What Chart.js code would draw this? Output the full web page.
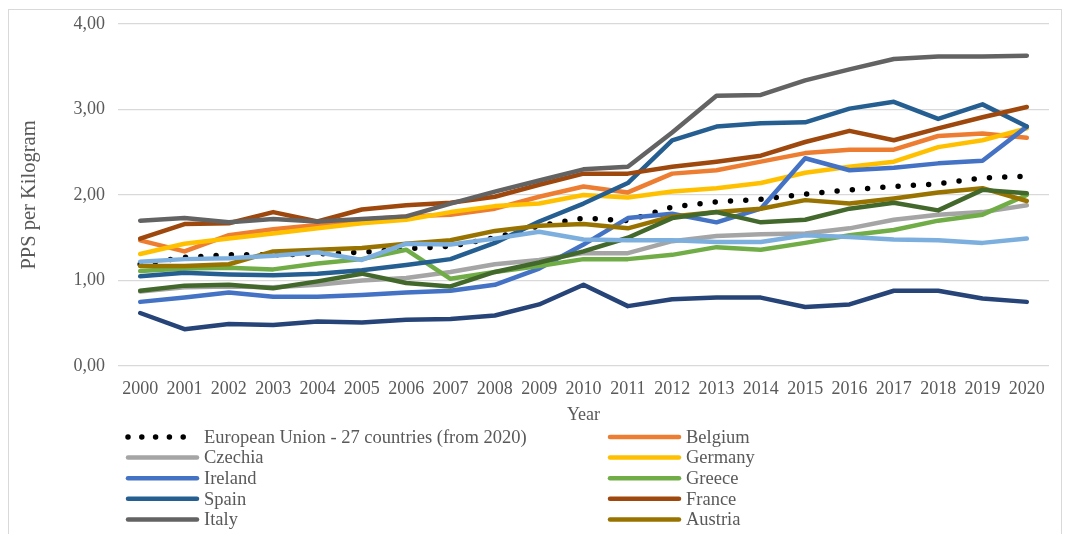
<!DOCTYPE html>
<html>
<head>
<meta charset="utf-8">
<title>PPS per Kilogram</title>
<script src="https://cdn.jsdelivr.net/npm/chart.js@4.4.0/dist/chart.umd.min.js"></script>
<style>
	html, body { margin: 0; padding: 0; background: #ffffff; }
	#wrap { width: 1067px; height: 534px; }
</style>
</head>
<body>
<div id="wrap"><canvas id="pps" width="1067" height="534"></canvas></div>
<script>
//data
const years = ["2000", "2001", "2002", "2003", "2004", "2005", "2006", "2007", "2008", "2009", "2010",
	"2011", "2012", "2013", "2014", "2015", "2016", "2017", "2018", "2019", "2020"];
const yTickValues = [0, 1, 2, 3, 4];

const eu27 = [1.19, 1.27, 1.30, 1.30, 1.31, 1.33, 1.37, 1.40, 1.50, 1.64, 1.73, 1.70, 1.86, 1.92, 1.95, 2.01, 2.06, 2.10, 2.13, 2.20, 2.22];
const belgium = [1.47, 1.34, 1.53, 1.60, 1.65, 1.71, 1.75, 1.77, 1.84, 1.98, 2.10, 2.03, 2.25, 2.29, 2.39, 2.49, 2.53, 2.53, 2.69, 2.72, 2.67];
const czechia = [0.87, 0.92, 0.93, 0.92, 0.95, 1.00, 1.03, 1.10, 1.19, 1.24, 1.32, 1.32, 1.46, 1.52, 1.54, 1.55, 1.61, 1.71, 1.77, 1.80, 1.88];
const germany = [1.31, 1.43, 1.49, 1.55, 1.61, 1.67, 1.71, 1.80, 1.87, 1.90, 2.00, 1.97, 2.04, 2.08, 2.14, 2.26, 2.33, 2.39, 2.56, 2.64, 2.78];
const ireland = [0.75, 0.80, 0.86, 0.81, 0.81, 0.83, 0.86, 0.88, 0.95, 1.14, 1.42, 1.73, 1.78, 1.68, 1.84, 2.43, 2.29, 2.32, 2.37, 2.40, 2.80];
const greece = [1.11, 1.14, 1.15, 1.13, 1.20, 1.25, 1.36, 1.02, 1.10, 1.17, 1.25, 1.25, 1.30, 1.39, 1.36, 1.44, 1.53, 1.59, 1.70, 1.77, 2.00];
const spain = [1.05, 1.09, 1.07, 1.06, 1.08, 1.12, 1.18, 1.25, 1.44, 1.69, 1.90, 2.14, 2.64, 2.80, 2.84, 2.85, 3.01, 3.09, 2.89, 3.06, 2.80];
const france = [1.49, 1.66, 1.67, 1.80, 1.69, 1.83, 1.88, 1.91, 1.98, 2.12, 2.25, 2.25, 2.33, 2.39, 2.46, 2.62, 2.75, 2.64, 2.78, 2.91, 3.03];
const italy = [1.70, 1.73, 1.68, 1.72, 1.69, 1.72, 1.75, 1.90, 2.04, 2.17, 2.30, 2.33, 2.73, 3.16, 3.17, 3.34, 3.47, 3.59, 3.62, 3.62, 3.63];
const austria = [1.17, 1.17, 1.19, 1.34, 1.36, 1.38, 1.43, 1.47, 1.58, 1.64, 1.66, 1.61, 1.75, 1.80, 1.84, 1.94, 1.90, 1.96, 2.03, 2.08, 1.93];
const poland = [0.62, 0.43, 0.49, 0.48, 0.52, 0.51, 0.54, 0.55, 0.59, 0.72, 0.95, 0.70, 0.78, 0.80, 0.80, 0.69, 0.72, 0.88, 0.88, 0.79, 0.75];
const portugal = [0.88, 0.94, 0.95, 0.91, 0.99, 1.08, 0.97, 0.93, 1.10, 1.21, 1.34, 1.50, 1.73, 1.80, 1.68, 1.71, 1.84, 1.91, 1.82, 2.06, 2.02];
const finland = [1.22, 1.25, 1.26, 1.29, 1.33, 1.24, 1.43, 1.42, 1.49, 1.57, 1.48, 1.47, 1.47, 1.45, 1.45, 1.53, 1.51, 1.48, 1.47, 1.44, 1.49];

const seriesNames = ["European Union - 27 countries (from 2020)", "Belgium", "Czechia", "Germany", "Ireland",
	"Greece", "Spain", "France", "Italy", "Austria", "Poland", "Portugal", "Finland"];
const seriesValues = [eu27, belgium, czechia, germany, ireland, greece, spain, france, italy, austria, poland, portugal, finland];
const seriesColors = ["#000000", "#ED7D31", "#A5A5A5", "#FFC000", "#4472C4", "#70AD47", "#255E91",
	"#9E480E", "#636363", "#997300", "#264478", "#43682B", "#7CAFDD"];
// only the first ten series get a legend entry
const legendCount = 10;

const serif = "'Liberation Serif', 'Times New Roman', serif";
const textGrey = "#595959";

Chart.defaults.font.family = serif;
Chart.defaults.font.size = 18;
Chart.defaults.color = textGrey;

// white page + thin frame round the chart
const frame = {
	id: "frame",
	beforeDraw(chart) {
		const ctx = chart.ctx;
		ctx.save();
		ctx.fillStyle = "#ffffff";
		ctx.fillRect(0, 0, chart.width, chart.height);
		ctx.strokeStyle = "#d9d9d9";
		ctx.lineWidth = 1;
		ctx.strokeRect(8.5, 9.5, 1053, 560);
		ctx.restore();
	},
};

// two column legend under the axis title
const twoColLegend = {
	id: "twoColLegend",
	afterDraw(chart) {
		const ctx = chart.ctx;
		ctx.save();
		ctx.font = "18.5px " + serif;
		ctx.textBaseline = "middle";
		ctx.textAlign = "left";
		chart.data.datasets.slice(0, legendCount).forEach((ds, i) => {
			const x0 = i % 2 ? 610 : 128;
			const y = 437 + Math.floor(i / 2) * 20.6;
			ctx.strokeStyle = ds.borderColor;
			ctx.lineWidth = ds.borderWidth;
			ctx.lineCap = "round";
			ctx.setLineDash(ds.borderDash ? [0, 13.8] : []);
			ctx.beginPath();
			ctx.moveTo(x0, y);
			ctx.lineTo(x0 + 69, y);
			ctx.stroke();
			ctx.fillStyle = textGrey;
			ctx.fillText(ds.label, x0 + 76, y + 1);
		});
		ctx.restore();
	},
};

let datasets = seriesNames.map((name, i) => ({
	label: name,
	data: seriesValues[i],
	borderColor: seriesColors[i],
	backgroundColor: seriesColors[i],
	borderWidth: i === 0 ? 5.5 : 4.5,
	borderDash: i === 0 ? [0, 15.3] : undefined,
	borderCapStyle: "round",
	borderJoinStyle: "round",
	pointRadius: 0,
	tension: 0,
	fill: false,
	order: -i,
}));

let ctx = document.getElementById("pps").getContext("2d");
let ppsChart = new Chart(ctx, {
	type: "line",
	data: {
		labels: years,
		datasets: datasets,
	},
	options: {
		responsive: false,
		animation: false,
		layout: {
			padding: { top: 24, right: 18, bottom: 108, left: 0 },
		},
		scales: {
			x: {
				offset: true,
				grid: { display: false },
				border: { display: false },
				ticks: { padding: 4, maxRotation: 0, autoSkip: false },
				title: {
					display: true,
					text: "Year",
					padding: { top: 1, bottom: 0 },
				},
				afterFit(scale) {
					scale.height = 60;
				},
			},
			y: {
				min: 0,
				max: 4,
				grid: { color: "#d9d9d9", lineWidth: 1.3, drawTicks: false },
				border: { display: false },
				ticks: {
					padding: 13,
					callback: (v) => v.toFixed(2).replace(".", ","),
				},
				afterBuildTicks(scale) {
					scale.ticks = yTickValues.map((v) => ({ value: v }));
				},
				title: {
					display: true,
					text: "PPS per Kilogram",
					font: { size: 20.5 },
					padding: { top: 17, bottom: 0 },
				},
				afterFit(scale) {
					scale.width = 118;
				},
			},
		},
		plugins: {
			legend: { display: false },
			tooltip: { enabled: false },
		},
	},
	plugins: [frame, twoColLegend],
});
</script>
</body>
</html>
